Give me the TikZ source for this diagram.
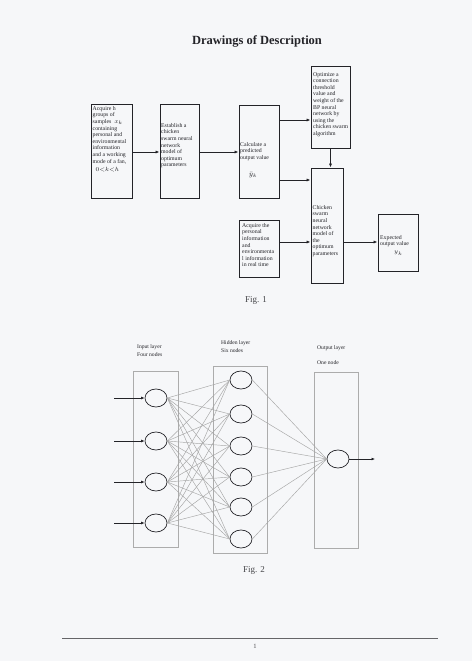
\documentclass[tikz,border=0pt]{standalone}
\usepackage{fontspec}
\setmainfont{Liberation Serif}
\usetikzlibrary{arrows.meta,calc,shapes.geometric}
\definecolor{paper}{RGB}{246,247,249}
\definecolor{ink}{RGB}{35,35,40}
\tikzset{
  box/.style={draw=ink, line width=1pt, inner sep=0pt},
  btxt/.style={anchor=north west, inner sep=0pt, align=left, font=\fontsize{5.8}{6.6}\selectfont, text=ink},
  flow/.style={draw=ink, line width=0.8pt, -{Latex[length=4pt,width=3.2pt]}},
  layerbox/.style={draw=gray!65, line width=0.6pt, inner sep=0pt},
  neuron/.style={draw=ink, line width=0.7pt, ellipse, minimum width=22pt, minimum height=18pt, inner sep=0pt},
  wire/.style={draw=gray!70, line width=0.45pt},
  ltxt/.style={anchor=north west, inner sep=0pt, align=left, font=\fontsize{5.6}{8.4}\selectfont, text=ink},
  figcap/.style={inner sep=0pt, font=\fontsize{9}{10}\selectfont, text=ink!85}
}
\begin{document}
\begin{tikzpicture}[x=1pt,y=-1pt]
\fill[paper] (0,0) rectangle (472,661);
\useasboundingbox (0,0) rectangle (472,661);

% title
\node[inner sep=0pt, font=\bfseries\fontsize{12.5}{14}\selectfont, text=ink] (title) at (257,41) {Drawings of Description};

% ---------- Fig. 1 ----------
\node[box, minimum width=41pt, minimum height=94pt] (b1) at (111.5,151) {};
\node[box, minimum width=39pt, minimum height=94pt] (b2) at (179.5,151) {};
\node[box, minimum width=40pt, minimum height=93pt] (b3) at (259,151.5) {};
\node[box, minimum width=39pt, minimum height=81pt] (b4) at (330.5,107.5) {};
\node[box, minimum width=32pt, minimum height=115pt] (b5) at (327,225.5) {};
\node[box, minimum width=40pt, minimum height=57pt] (b6) at (259,248.5) {};
\node[box, minimum width=40pt, minimum height=57pt] (b7) at (398,242.5) {};

\node[btxt] (t1) at (92.5,106) {Acquire h\\groups of\\samples \ $x_k$\\containing\\personal and\\environmental\\information\\and a working\\mode of a fan,\\[1.8pt] \ \ $0{<}k{<}h$};
\node[btxt] (t2) at (161,123) {Establish a\\chicken\\swarm neural\\network\\model of\\optimum\\parameters};
\node[btxt] (t3) at (240,142) {Calculate a\\predicted\\output value};
\node[inner sep=0pt, font=\fontsize{6.8}{7}\selectfont, text=ink] (t3b) at (253,175) {$\bar{y}_k$};
\node[btxt] (t4) at (313,72) {Optimize a\\connection\\threshold\\value and\\weight of the\\BP neural\\network by\\using the\\chicken swarm\\algorithm};
\node[btxt] (t5) at (312.5,205) {Chicken\\swarm\\neural\\network\\model of\\the\\optimum\\parameters};
\node[btxt] (t6) at (242,223) {Acquire the\\personal\\information\\and\\environmenta\\l information\\in real time};
\node[btxt] (t7) at (380,235) {Expected\\output value\\[1.5pt]\hspace*{14pt}$y_k$};

\coordinate (y120) at (0,120);
\coordinate (y180) at (0,180);
\coordinate (y242) at (0,242);
\coordinate (y152) at (0,152);
\draw[flow] (b1.east |- y152) -- (b2.west |- y152);
\draw[flow] (b2.east |- y152) -- (b3.west |- y152);
\draw[flow] (b3.east |- y120) -- (b4.west |- y120);
\draw[flow] (b3.east |- y180) -- (b5.west |- y180);
\draw[flow] (b4.south) -- (b4.south |- b5.north);
\draw[flow] (b6.east |- y242) -- (b5.west |- y242);
\draw[flow] (b5.east |- y242) -- (b7.west |- y242);

\node[figcap] (fig1) at (256,300) {Fig. 1};

% ---------- Fig. 2 ----------
\node[layerbox, minimum width=45pt, minimum height=176pt] (Lin) at (155.5,459) {};
\node[layerbox, minimum width=54pt, minimum height=187pt] (Lhid) at (240,459.5) {};
\node[layerbox, minimum width=44pt, minimum height=176pt] (Lout) at (336,460) {};

\node[ltxt] (lin) at (137,344) {Input layer\\Four nodes};
\node[ltxt] (lhid) at (221,340) {Hidden layer\\Six nodes};
\node[ltxt] (lout1) at (317,345) {Output layer};
\node[ltxt] (lout2) at (317,360) {One node};

\foreach \y [count=\i] in {398,441,482,523} {
  \node[neuron] (i\i) at (156,\y) {};
  \coordinate (s\i) at (114,\y);
}
\foreach \y [count=\j] in {380,414,446,477,507,539} {
  \node[neuron] (h\j) at (241,\y) {};
}
\node[neuron] (o) at (338,459) {};
\coordinate (oend) at (375,459);

\foreach \i in {1,...,4} {
  \foreach \j in {1,...,6} {
    \draw[wire] (i\i.east) -- (h\j.west);
  }
}
\foreach \j in {1,...,6} {
  \draw[wire] (h\j.east) -- (o.west);
}
\foreach \i in {1,...,4} {
  \draw[draw=ink, line width=0.6pt, -{Latex[length=3.5pt,width=2.8pt]}] (s\i) -- (i\i.west);
}
\draw[draw=ink, line width=0.6pt, -{Latex[length=3.5pt,width=2.8pt]}] (o.east) -- (oend);

\node[figcap] (fig2) at (254,570) {Fig. 2};

% footer
\coordinate (fl) at (62,638);
\coordinate (fr) at (438,638);
\draw[draw=ink!70, line width=1pt] (fl) -- (fr);
\node[inner sep=0pt, font=\fontsize{6.5}{7}\selectfont, text=ink!80] (pg) at (255,646) {1};
\end{tikzpicture}
\end{document}
